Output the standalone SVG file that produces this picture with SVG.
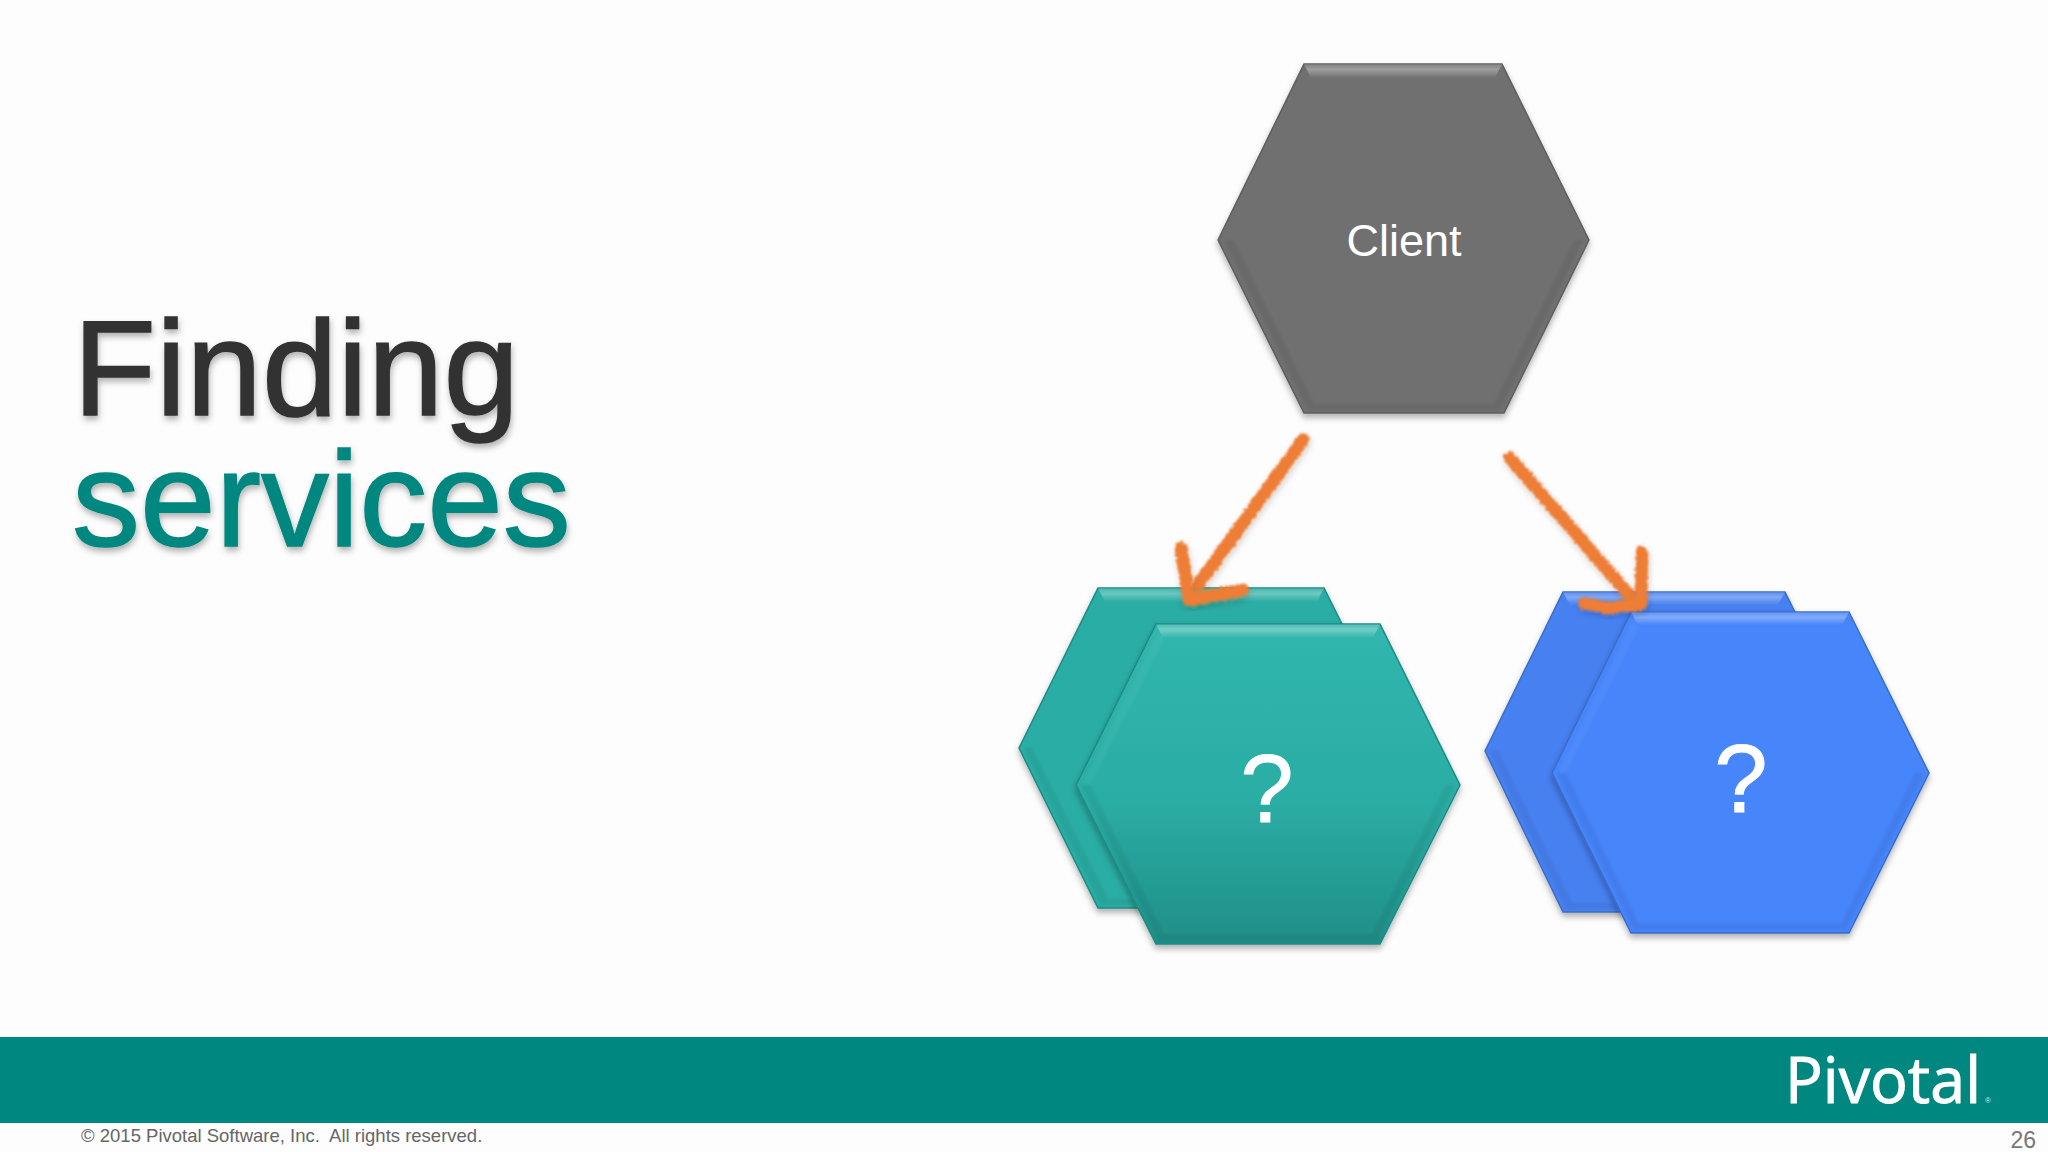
<svg xmlns="http://www.w3.org/2000/svg" width="2048" height="1152" viewBox="0 0 2048 1152">
<style>
text{font-family:"Liberation Sans",Arial,sans-serif}
.title{font-size:136px;filter:url(#ts);stroke-width:1.5px}
.lab{fill:#fff;text-anchor:middle}
.hl{fill:url(#bev)}
.hs{fill:#fff;opacity:.04;filter:url(#soft)}
.dk{fill:#000;opacity:.055;filter:url(#soft)}
.arrow{fill:none;stroke:#ee7d34;stroke-width:12.5;stroke-linecap:round;stroke-linejoin:round;filter:url(#rough)}
</style>
<defs>
<filter id="ts" x="-5%" y="-10%" width="110%" height="125%"><feDropShadow dx="1" dy="4" stdDeviation="3" flood-color="#000" flood-opacity=".3"/></filter>
<filter id="sh" x="-5%" y="-5%" width="110%" height="112%"><feDropShadow dx="0" dy="4" stdDeviation="3" flood-color="#000" flood-opacity=".3"/></filter>
<filter id="soft" x="-5%" y="-5%" width="110%" height="110%"><feGaussianBlur stdDeviation="1.5"/></filter>
<filter id="rough" x="-20%" y="-20%" width="140%" height="140%"><feTurbulence type="fractalNoise" baseFrequency=".35" numOctaves="2" seed="4"/><feDisplacementMap in="SourceGraphic" scale="6" xChannelSelector="R" yChannelSelector="G" result="d"/><feGaussianBlur in="d" stdDeviation=".8" result="b"/><feDropShadow in="b" dx="1" dy="3" stdDeviation="3" flood-color="#000" flood-opacity=".2"/></filter>
<linearGradient id="gt" x1="0" y1="0" x2="0" y2="1"><stop offset="0" stop-color="#30b6ad"/><stop offset=".55" stop-color="#2badA4"/><stop offset="1" stop-color="#1f8f88"/></linearGradient>
<linearGradient id="bev" x1="0" y1="0" x2="0" y2="1"><stop offset="0" stop-color="#fff" stop-opacity=".12"/><stop offset=".4" stop-color="#fff" stop-opacity=".32"/><stop offset="1" stop-color="#fff" stop-opacity="0"/></linearGradient>
</defs>
<rect width="2048" height="1152" fill="#fdfdfe"/>
<rect x="0" y="1037" width="2048" height="86" fill="#00877f"/>
<text class="title" x="73" y="415" fill="#333" stroke="#333">Finding</text>
<text class="title" x="72" y="546" fill="#00877f" stroke="#00877f">services</text>

<g id="client">
<polygon points="1218,240 1304,64 1502,64 1589,240 1504,413 1304,413" fill="#707070" stroke="#5e5e5e" stroke-width="1.5" filter="url(#sh)"/>
<polygon class="hl" points="1304,64 1502,64 1495,78 1311,78"/>
<polygon class="dk" points="1224,240 1308,411 1500,411 1583,240 1574,240 1494,404 1314,404 1234,240"/>
<text class="lab" x="1404" y="256" font-size="45">Client</text>
</g>

<g id="service-a-back">
<polygon points="1019,748 1098,588 1324,588 1404,748 1324,908 1098,908" fill="#2aada4" stroke="#1c8a83" stroke-width="1.5" filter="url(#sh)"/>
<polygon class="hl" points="1098,588 1324,588 1317,602 1105,602"/>
<polygon class="dk" points="1024,748 1101,905 1300,905 1300,899 1108,899 1032,748"/>
</g>
<g id="service-a">
<polygon points="1076,785 1156,624 1380,624 1460,785 1380,944 1156,944" fill="url(#gt)" stroke="#1c8a83" stroke-width="1.5" filter="url(#sh)"/>
<polygon class="hl" points="1156,624 1380,624 1373,638 1163,638"/>
<polygon class="hs" points="1082,785 1159,630 1164,640 1090,785"/>
<polygon class="dk" points="1081,785 1159,941 1377,941 1455,785 1446,785 1372,934 1164,934 1090,785"/>
<text class="lab" x="1267" y="822" font-size="96" stroke="#fff" stroke-width=".8">?</text>
</g>

<g id="service-b-back">
<polygon points="1485,751 1563,592 1785,592 1864,751 1785,912 1563,912" fill="#4680f0" stroke="#3a6cc8" stroke-width="1.5" filter="url(#sh)"/>
<polygon class="hl" points="1563,592 1785,592 1778,605 1570,605"/>
<polygon class="dk" points="1490,751 1566,909 1640,909 1640,903 1572,903 1498,751"/>
</g>
<g id="service-b">
<polygon points="1552,773 1631,612 1849,612 1929,773 1849,933 1631,933" fill="#4785fb" stroke="#3a6cc8" stroke-width="1.5" filter="url(#sh)"/>
<polygon class="hl" points="1631,612 1849,612 1842,625 1638,625"/>
<polygon class="hs" points="1558,773 1634,618 1639,628 1566,773"/>
<polygon class="dk" points="1557,773 1634,930 1846,930 1924,773 1915,773 1841,924 1639,924 1566,773"/>
<text class="lab" x="1741" y="812" font-size="96" stroke="#fff" stroke-width=".8">?</text>
</g>

<g id="connectors">
<path class="arrow" d="M1303,440 L1197,586"/>
<path class="arrow" d="M1181,548 L1189,600 L1243,590"/>
<path class="arrow" d="M1510,458 L1630,596"/>
<path class="arrow" d="M1642,552 L1641,604 L1608,608 L1584,603"/>
</g>

<g id="logo">
<text x="1785" y="1103" font-size="64" font-weight="500" fill="#fff" stroke="#fff" stroke-width="1" style="font-family:'Open Sans','Liberation Sans',sans-serif" textLength="196" lengthAdjust="spacingAndGlyphs">Pivotal</text>
<text x="1985" y="1103" font-size="8" fill="#cfe8e6">®</text>
</g>
<text x="81" y="1142" font-size="18.5" fill="#666" xml:space="preserve">© 2015 Pivotal Software, Inc.  All rights reserved.</text>
<text x="2036" y="1148" font-size="23" fill="#777" text-anchor="end">26</text>
</svg>
